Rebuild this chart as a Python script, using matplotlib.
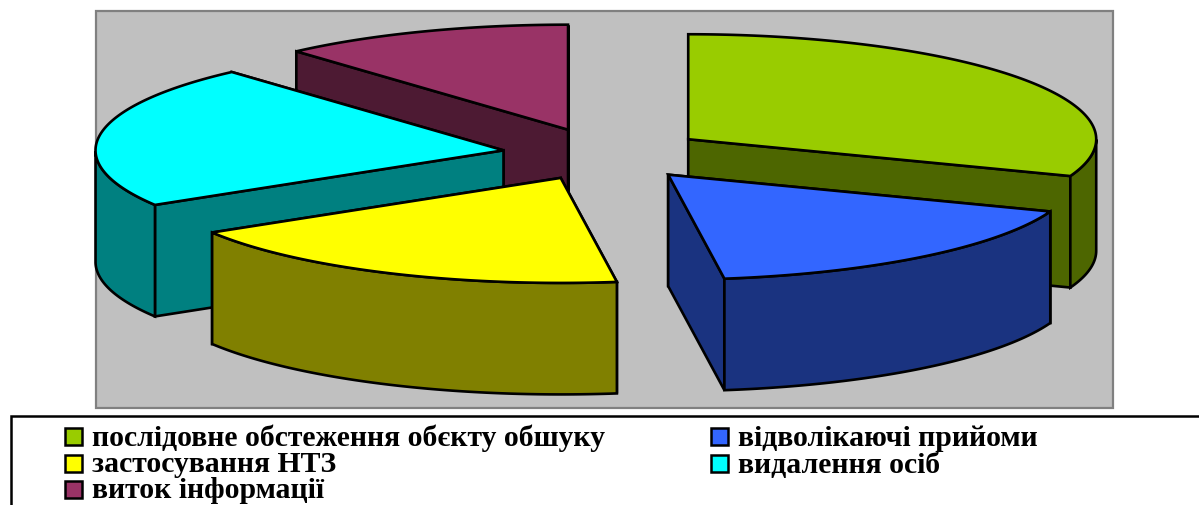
import numpy as np
import matplotlib
matplotlib.use("Agg")
import matplotlib.pyplot as plt
from matplotlib.patches import Polygon, Rectangle

categories = ["послідовне обстеження обєкту обшуку", "відволікаючі прийоми",
              "застосування НТЗ", "видалення осіб", "виток інформації"]
values = [30.7, 17.1, 18.5, 22.1, 11.6]
colors = ["#99CC00", "#3366FF", "#FFFF00", "#00FFFF", "#993366"]

W, H = 1199, 505
CX, CY = 604.4, 154.2
RX, RY = 408, 105
DEPTH = 111.5
EXPLODE = 0.25
LW = 1.9
paint_order = [4, 3, 2, 0, 1]

fig = plt.figure(figsize=(W / 100, H / 100), dpi=100, facecolor="white")
ax = fig.add_axes([0, 0, 1, 1])
ax.set_xlim(0, W)
ax.set_ylim(H, 0)
ax.axis("off")

ax.add_patch(Rectangle((95.5, 10.5), 1017.5, 397.5, fc="#C0C0C0", ec="#808080", lw=1.6))
ax.add_patch(Rectangle((10.5, 415.5), 1300, 200, fc="white", ec="black", lw=1.8))

bounds = 90 - 360 * np.cumsum([0] + values) / sum(values)


def rim(apex, a):
    r = np.radians(a)
    return apex + np.column_stack((RX * np.cos(r), -RY * np.sin(r)))


def shade(c):
    return tuple(v * 0.5 for v in matplotlib.colors.to_rgb(c))


def style(c):
    return dict(fc=c, ec="black", lw=LW, joinstyle="miter")


for i in paint_order:
    a0, a1 = bounds[i], bounds[i + 1]
    mid = np.radians((a0 + a1) / 2)
    apex = np.array([CX + EXPLODE * RX * np.cos(mid), CY - EXPLODE * RY * np.sin(mid)])
    arc = np.linspace(a0, a1, 120)
    pts = rim(apex, arc)
    down = np.array([0, DEPTH])
    dark = shade(colors[i])

    # cut faces, the lower one last
    for p in sorted([pts[0], pts[-1]], key=lambda q: q[1]):
        ax.add_patch(Polygon([apex, p, p + down, apex + down], **style(dark)))

    # outer wall: the front half of the rim
    front = pts[np.sin(np.radians(arc)) <= 0]
    if len(front) > 1:
        ax.add_patch(Polygon(np.vstack((front, (front + down)[::-1])), **style(dark)))

    # top face
    ax.add_patch(Polygon(np.vstack((apex, pts)), **style(colors[i])))

# legend
col_x = [65, 711]
row_y = [428, 454.5, 480.5]
for k, (name, c) in enumerate(zip(categories, colors)):
    x = col_x[k % 2]
    y = row_y[k // 2]
    ax.add_patch(Rectangle((x, y), 17, 17, fc=c, ec="black", lw=1.8))
    ax.text(x + 27.5, y + 18, name, family="Liberation Serif", fontweight="bold",
            fontsize=21.4, color="black", va="baseline", ha="left")

fig.savefig("out.png", dpi=100)
